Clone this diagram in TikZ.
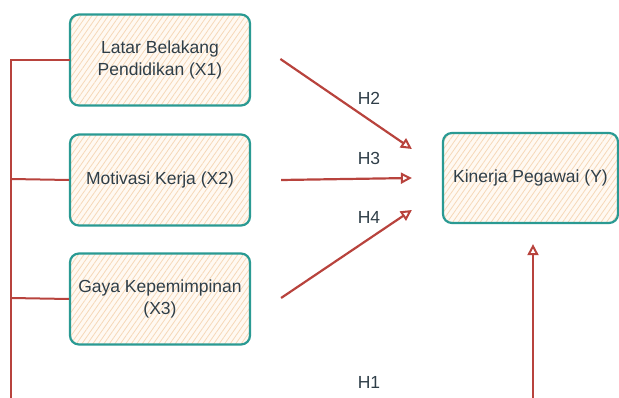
\documentclass[tikz,border=0pt]{standalone}
\usepackage{fontspec}
\setmainfont{Liberation Sans}
\usetikzlibrary{arrows.meta,patterns.meta,calc}
\definecolor{tealline}{HTML}{2A9A93}
\definecolor{redline}{HTML}{B8433D}
\definecolor{txt}{HTML}{2F3E48}
\definecolor{hatch}{HTML}{F6D8B8}
\definecolor{boxbg}{HTML}{FFF9F2}
\tikzset{
  varbox/.style={draw=tealline, line width=2.2pt, rounded corners=9pt,
    preaction={fill=boxbg},
    pattern={Lines[angle=55,distance=4.5pt,line width=0.8pt]}, pattern color=hatch,
    minimum width=180pt, minimum height=91pt, align=center, text=txt,
    font=\fontsize{17.5}{22.5}\selectfont, inner sep=2pt},
  hyp/.style={draw=redline, line width=2.2pt, -{Triangle[open,length=11pt,width=11pt,line width=2pt]}},
  spine/.style={draw=redline, line width=2pt},
  lab/.style={text=txt, font=\fontsize{17.5}{21}\selectfont, inner sep=0pt}
}
\begin{document}
\begin{tikzpicture}[x=1pt,y=-1pt]
\useasboundingbox (0,0) rectangle (619,398);
\node[varbox] (x1) at (160,60) {Latar Belakang\\Pendidikan (X1)};
\node[varbox] (x2) at (160,180) {Motivasi Kerja (X2)};
\node[varbox] (x3) at (160,299) {Gaya Kepemimpinan\\(X3)};
\node[varbox, minimum width=175pt, minimum height=90pt] (y) at (530.5,178) {Kinerja Pegawai (Y)};
% spine
\coordinate (top) at (11,60);
\coordinate (s2) at (11,179);
\coordinate (s3) at (11,298);
\coordinate (bot) at (11,398);
\draw[spine] (bot) -- (top) -- (x1.west);
\draw[spine] (s2) -- (x2.west);
\draw[spine] (s3) -- (x3.west);
% hypotheses
\draw[hyp] ($(x1.east)+(30,-1)$) -- ($(y.west)+(-30,-29)$);
\draw[hyp] ($(x2.east)+(30,0)$) -- ($(y.west)+(-30,0)$);
\draw[hyp] ($(x3.east)+(30,-1)$) -- ($(y.west)+(-30,32)$);
\coordinate (h1s) at (533,398);
\draw[hyp] (h1s) -- ($(y.south)+(2.5,20)$);
% labels
\node[lab] (lh2) at (369,98) {H2};
\node[lab] (lh3) at (369,158) {H3};
\node[lab] (lh4) at (369,217) {H4};
\node[lab] (lh1) at (369,382) {H1};
\end{tikzpicture}
\end{document}
